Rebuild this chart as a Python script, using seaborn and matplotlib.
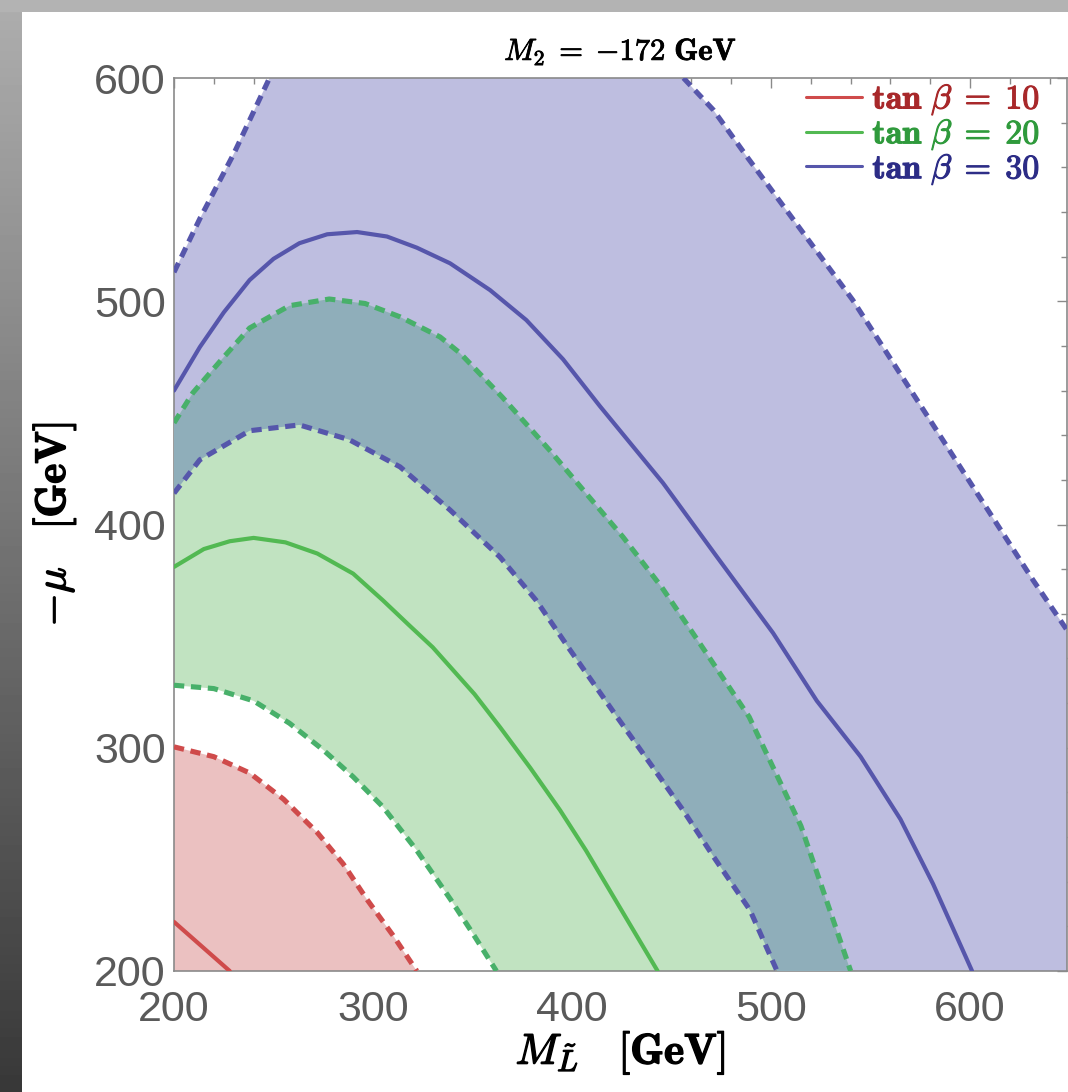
import numpy as np
import matplotlib
matplotlib.use("Agg")
import matplotlib.pyplot as plt
from matplotlib.patches import Rectangle
from matplotlib.lines import Line2D
from matplotlib.ticker import MultipleLocator
import matplotlib.patheffects as pe
import seaborn as sns

# ---- contour data: M_L (GeV) vs -mu (GeV), M2 = -172 GeV ----
# tan(beta) = 10
red_solid_x = [200, 228]
red_solid_y = [222, 200]
red_upper_x = [200, 220, 238, 255, 272, 285, 297, 310, 322]
red_upper_y = [300.4, 296, 288.7, 277, 262, 248, 232, 216, 200]

# tan(beta) = 20
green_lower_x = [200, 220, 240, 258, 275, 290, 305, 322, 339, 350, 362]
green_lower_y = [328, 326.5, 321, 311, 299, 287, 273.5, 254, 232, 217, 200]
green_solid_x = [200, 215, 228, 240, 256, 272, 290, 305, 318, 330, 351, 364, 379, 394, 407, 419, 431, 443]
green_solid_y = [381, 389, 392.5, 394, 392, 387, 378, 366, 355, 345, 324, 309, 291, 272, 254, 236, 218, 200]
green_upper_x = [200, 209.5, 224.6, 238, 258, 278, 296, 313.6, 333.7, 343.7, 365, 389, 407, 425.6, 445, 464, 489, 515, 540]
green_upper_y = [445.5, 459, 474.6, 488, 498, 501, 499, 493, 484, 476.8, 457, 433, 414, 394.4, 372, 347, 313.8, 265, 200]

# tan(beta) = 30
blue_lower_x = [200, 213, 238, 263, 288, 313.6, 338.7, 363.8, 382, 399, 422.6, 440, 455.8, 472, 489.4, 503]
blue_lower_y = [414, 429, 442, 444.6, 438, 425.8, 406.5, 385.4, 366, 343.8, 313.8, 292, 272, 250, 227.3, 200]
blue_solid_x = [200, 213, 225, 238, 250, 263, 277, 292, 307, 322, 338.7, 358.8, 377, 395.5, 414, 445.7, 472.9, 501, 523, 545, 565, 581.4, 598.5, 601]
blue_solid_y = [460, 479.5, 495, 509.5, 519, 526, 530, 531, 529, 524, 517, 505, 491.6, 474, 453, 418.6, 385.4, 351.4, 321, 296, 268, 239, 205, 200]
blue_upper_left_x = [200, 213, 230, 248]
blue_upper_left_y = [513, 537, 566, 600]
blue_upper_right_x = [456, 471, 488, 541, 601.5, 631.7, 648.7]
blue_upper_right_y = [600, 585.7, 564.6, 500.6, 416.8, 375, 352.7]

legend_labels = [r"$\mathbf{tan}\ \beta\;\mathbf{=}\;\mathbf{10}$",
                 r"$\mathbf{tan}\ \beta\;\mathbf{=}\;\mathbf{20}$",
                 r"$\mathbf{tan}\ \beta\;\mathbf{=}\;\mathbf{30}$"]
x_ticks = [200, 300, 400, 500, 600]
y_ticks = [200, 300, 400, 500, 600]
XMIN, XMAX, YMIN, YMAX = 200, 648.7, 200, 600

# ---- style ----
sns.set_theme(style="white")
plt.rcParams["font.family"] = ["Liberation Sans", "DejaVu Sans"]
plt.rcParams["mathtext.fontset"] = "cm"

RED, RED_TXT, RED_FILL = "#cf4b4b", "#a8282a", "#ebc1c1"
GREEN, GREEN_TXT, GREEN_FILL = "#52b952", "#2f9a3c", "#c1e3c1"
BLUE, BLUE_TXT, BLUE_FILL = "#5656ab", "#2c2c86", "#bebee0"
OVERLAP_FILL = "#8faeba"
GREEN_DASH = "#48b06a"
FRAME = "#8a8a8a"

DASH = (0, (2.0, 1.3))
LW_SOLID, LW_DASH = 3.0, 3.7

fig = plt.figure(figsize=(10.68, 10.92), dpi=100)
fig.patch.set_facecolor("white")

# slide backdrop: grey gradient strip on the left, grey band on top
bg = fig.add_axes([0, 0, 1, 1], zorder=-10)
grad = np.linspace(0.68, 0.22, 256)[:, None]
bg.imshow(grad, cmap="gray", vmin=0, vmax=1, extent=[0, 22, 1092, 0], aspect="auto")
bg.add_patch(Rectangle((0, 0), 1068, 12, color=(0.70, 0.70, 0.70), lw=0))
bg.set_xlim(0, 1068)
bg.set_ylim(1092, 0)
bg.axis("off")

ax = fig.add_axes([174 / 1068, 121 / 1092, 893 / 1068, 893 / 1092])
ax.set_facecolor("white")

# ---- filled bands ----
# tan(beta)=30 band (clipped by the top edge)
bx = (blue_lower_x + [XMAX, XMAX] + blue_upper_right_x[::-1] + blue_upper_left_x[::-1])
by = (blue_lower_y + [YMIN, blue_upper_right_y[-1]] + blue_upper_right_y[::-1] + blue_upper_left_y[::-1])
ax.fill(bx, by, color=BLUE_FILL, lw=0, zorder=1)

# tan(beta)=20 band
gx = green_lower_x + green_upper_x[::-1]
gy = green_lower_y + green_upper_y[::-1]
ax.fill(gx, gy, color=GREEN_FILL, lw=0, zorder=2)

# overlap of the 20 and 30 bands
ox = blue_lower_x + green_upper_x[::-1]
oy = blue_lower_y + green_upper_y[::-1]
ax.fill(ox, oy, color=OVERLAP_FILL, lw=0, zorder=3)

# tan(beta)=10 band
rx = red_upper_x + [XMIN]
ry = red_upper_y + [YMIN]
ax.fill(rx, ry, color=RED_FILL, lw=0, zorder=2)

# ---- contour lines ----
def curve(xs, ys, color, dashed):
    sns.lineplot(x=xs, y=ys, ax=ax, color=color, sort=False, estimator=None,
                 lw=LW_DASH if dashed else LW_SOLID,
                 linestyle=DASH if dashed else "-", zorder=5, legend=False)
    ax.lines[-1].set_solid_joinstyle("round")
    ax.lines[-1].set_dash_capstyle("butt")

curve(red_upper_x, red_upper_y, RED, True)
curve(red_solid_x, red_solid_y, RED, False)
curve(green_lower_x, green_lower_y, GREEN_DASH, True)
curve(green_upper_x, green_upper_y, GREEN_DASH, True)
curve(green_solid_x, green_solid_y, GREEN, False)
curve(blue_lower_x, blue_lower_y, BLUE, True)
curve(blue_upper_left_x, blue_upper_left_y, BLUE, True)
curve(blue_upper_right_x, blue_upper_right_y, BLUE, True)
curve(blue_solid_x, blue_solid_y, BLUE, False)

# ---- axes ----
ax.set_xlim(XMIN, XMAX)
ax.set_ylim(YMIN, YMAX)
ax.set_xticks(x_ticks)
ax.set_yticks(y_ticks)
ax.xaxis.set_minor_locator(MultipleLocator(20))
ax.yaxis.set_minor_locator(MultipleLocator(20))
ax.tick_params(which="both", direction="in", top=True, right=True, color=FRAME, width=1.0)
ax.tick_params(which="major", length=7)
ax.tick_params(which="minor", length=4)
ax.tick_params(axis="x", which="major", labelsize=31, labelcolor="#5a5a5a", pad=14)
ax.tick_params(axis="y", which="major", labelsize=31, labelcolor="#5a5a5a", pad=6)
for s in ax.spines.values():
    s.set_color(FRAME)
    s.set_linewidth(1.2)
    s.set_visible(True)

bold = [pe.withStroke(linewidth=1.0, foreground="black")]
ax.set_xlabel(r"$M_{\tilde{L}}\quad\mathbf{[GeV]}$", fontsize=31, color="black", labelpad=0)
ax.set_ylabel(r"$-\mu\quad\mathbf{[GeV]}$", fontsize=31, color="black", labelpad=12)
ax.xaxis.label.set_path_effects(bold)
ax.yaxis.label.set_path_effects(bold)
ax.set_title(r"$M_2\;\mathbf{=}\;{-}\mathbf{172\ GeV}$", fontsize=22, color="black", pad=13)
ax.title.set_path_effects([pe.withStroke(linewidth=0.6, foreground="black")])

handles = [Line2D([], [], color=c, lw=2.2) for c in (RED, GREEN, BLUE)]
leg = ax.legend(handles, legend_labels, loc="upper right", frameon=False,
                fontsize=24.5, handlelength=1.65, handletextpad=0.3, labelspacing=0.0,
                borderaxespad=0.0, bbox_to_anchor=(0.985, 1.01),
                labelcolor=[RED_TXT, GREEN_TXT, BLUE_TXT])
for t in leg.get_texts():
    t.set_path_effects([pe.withStroke(linewidth=0.8, foreground=t.get_color())])

fig.savefig("out.png", dpi=100, facecolor=fig.get_facecolor())
